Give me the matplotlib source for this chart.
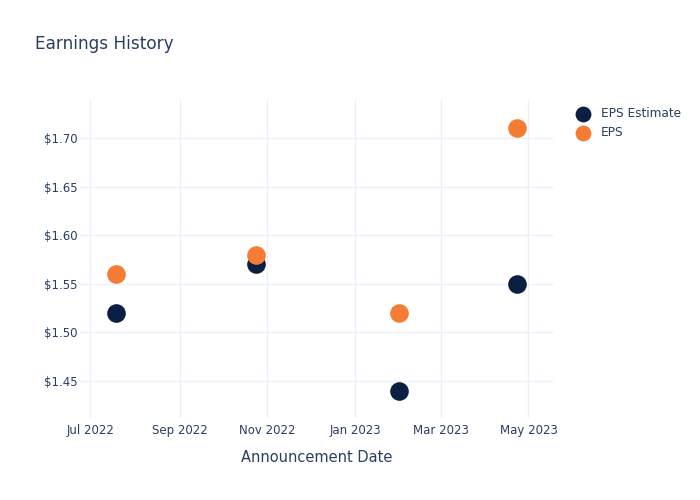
import matplotlib
matplotlib.use("Agg")
import matplotlib.pyplot as plt
import matplotlib.dates as mdates
import pandas as pd

# Data
dates = pd.to_datetime(["2022-07-19", "2022-10-24", "2023-01-31", "2023-04-23"])
eps_estimate = [1.52, 1.57, 1.44, 1.55]
eps_actual = [1.56, 1.58, 1.52, 1.71]
y_ticks = [1.45, 1.50, 1.55, 1.60, 1.65, 1.70]
x_ticks = pd.to_datetime(["2022-07-01", "2022-09-01", "2022-11-01",
                          "2023-01-01", "2023-03-01", "2023-05-01"])

TEXT = "#2a3f5f"
GRID = "#ebf0f8"
NAVY = "#0b1f42"
ORANGE = "#f57c35"

fig = plt.figure(figsize=(7, 5), dpi=100)
ax = fig.add_axes([80 / 700, 1 - 418 / 500, (553 - 80) / 700, (418 - 100) / 500])

ax.scatter(dates, eps_estimate, s=180, color=NAVY, label="EPS Estimate", zorder=3, linewidths=0)
ax.scatter(dates, eps_actual, s=180, color=ORANGE, label="EPS", zorder=3, linewidths=0)

ax.set_xlim(pd.Timestamp("2022-06-24"), pd.Timestamp("2023-05-18"))
ax.set_ylim(1.412, 1.739)
ax.set_xticks(x_ticks)
ax.xaxis.set_major_formatter(mdates.DateFormatter("%b %Y"))
ax.set_yticks(y_ticks)
ax.set_yticklabels([f"${v:.2f}" for v in y_ticks])

ax.grid(True, color=GRID, linewidth=1)
ax.set_axisbelow(True)
for s in ax.spines.values():
    s.set_visible(False)
ax.tick_params(length=0, labelsize=8.5, labelcolor=TEXT)
ax.tick_params(axis="y", pad=2)
ax.tick_params(axis="x", pad=4)

ax.set_xlabel("Announcement Date", fontsize=10.5, color=TEXT, labelpad=10)
fig.text(35 / 700, 1 - 44 / 500, "Earnings History", fontsize=12.2, color=TEXT, va="center")

leg = ax.legend(loc="upper left", bbox_to_anchor=(1.022, 1.0), frameon=False,
                fontsize=8.7, handletextpad=0.5, labelspacing=0.45, markerscale=0.85,
                borderaxespad=0.2)
for t in leg.get_texts():
    t.set_color(TEXT)

fig.savefig("out.png", dpi=100)
